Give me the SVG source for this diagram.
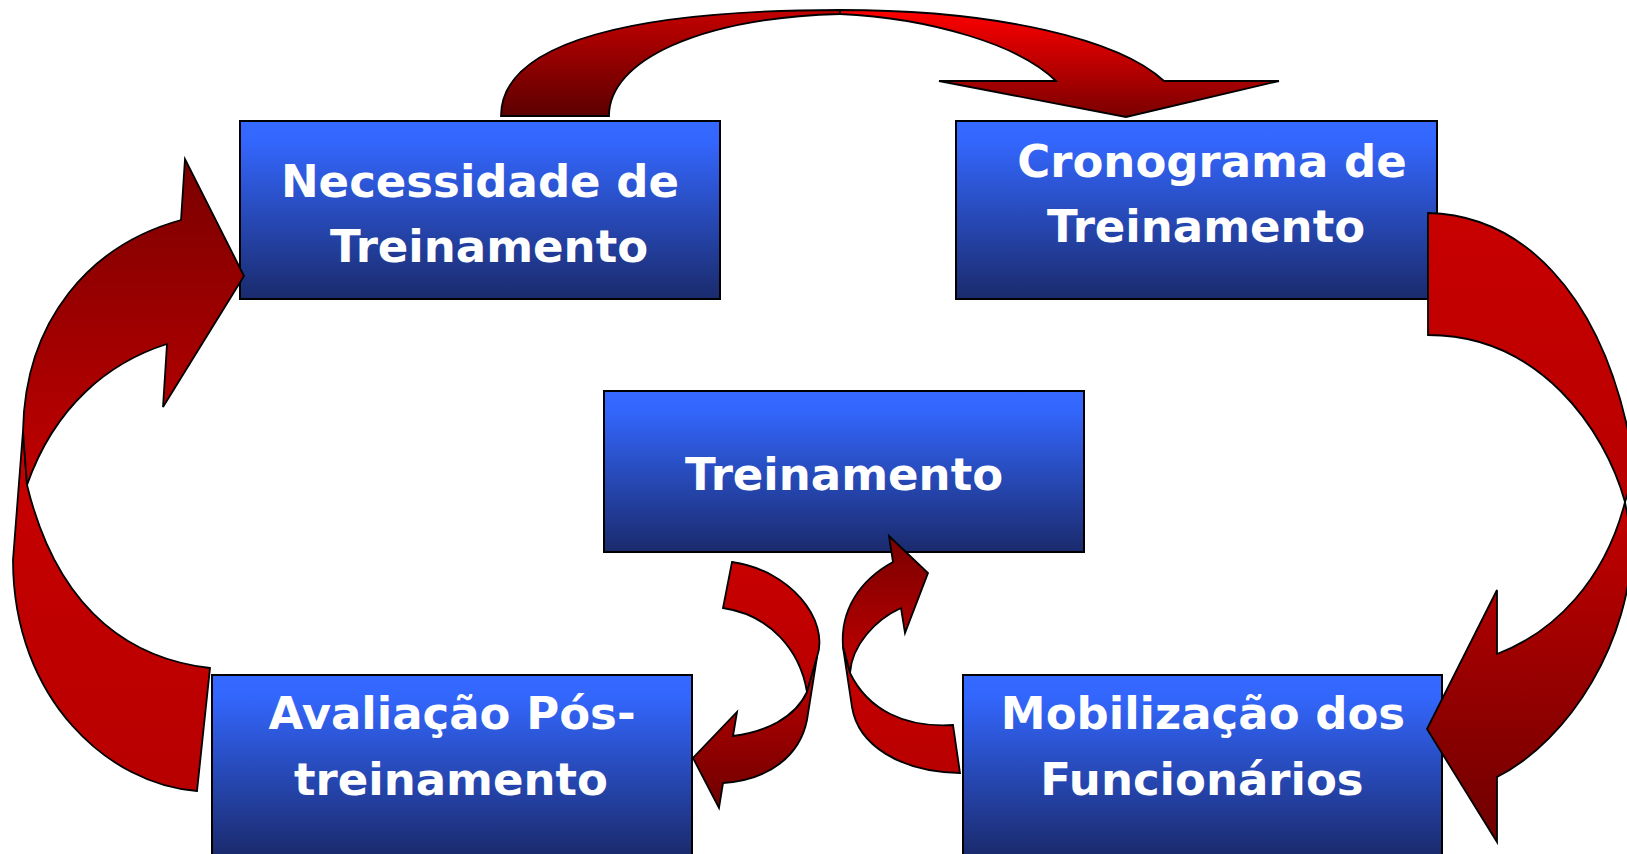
<svg xmlns="http://www.w3.org/2000/svg" width="1627" height="854" viewBox="0 0 1627 854">
<defs>
<linearGradient id="gBox" x1="0" y1="0" x2="0" y2="1">
<stop offset="0" stop-color="#3669ff"/>
<stop offset="0.12" stop-color="#3366fc"/>
<stop offset="1" stop-color="#1a2a6c"/>
</linearGradient>
<linearGradient id="gTopL" x1="0" y1="0" x2="0" y2="1">
<stop offset="0" stop-color="#c40000"/>
<stop offset="1" stop-color="#5c0000"/>
</linearGradient>
<linearGradient id="gTopR" x1="0" y1="0" x2="0" y2="1">
<stop offset="0" stop-color="#ff0000"/>
<stop offset="1" stop-color="#7a0000"/>
</linearGradient>
<linearGradient id="gDarkUp" x1="0" y1="0" x2="0" y2="1">
<stop offset="0" stop-color="#7a0000"/>
<stop offset="1" stop-color="#c00000"/>
</linearGradient>
<linearGradient id="gDarkDown" x1="0" y1="0" x2="0" y2="1">
<stop offset="0" stop-color="#c40000"/>
<stop offset="1" stop-color="#6e0000"/>
</linearGradient>
<linearGradient id="gRed" x1="0" y1="0" x2="0" y2="1">
<stop offset="0" stop-color="#c80000"/>
<stop offset="1" stop-color="#b80000"/>
</linearGradient>
</defs>
<style>
.box{fill:url(#gBox);stroke:#000;stroke-width:2}
.lbl{font-family:"DejaVu Sans","Verdana",sans-serif;font-weight:bold;font-size:45px;fill:#fff;text-anchor:middle}
.arr{stroke:#000;stroke-width:1.8;stroke-linejoin:miter}
</style>
<rect width="1627" height="854" fill="#fff"/>

<g id="node-necessidade">
<rect class="box" x="240" y="121" width="480" height="178"/>
<text class="lbl" x="480" y="197">Necessidade de</text>
<text class="lbl" x="489" y="262">Treinamento</text>
</g>
<g id="node-cronograma">
<rect class="box" x="956" y="121" width="481" height="178"/>
<text class="lbl" x="1212" y="177">Cronograma de</text>
<text class="lbl" x="1206" y="242">Treinamento</text>
</g>
<g id="node-treinamento">
<rect class="box" x="604" y="391" width="480" height="161"/>
<text class="lbl" x="844" y="490">Treinamento</text>
</g>
<g id="node-avaliacao">
<rect class="box" x="212" y="675" width="480" height="181"/>
<text class="lbl" x="452" y="729">Avaliação Pós-</text>
<text class="lbl" x="451" y="795">treinamento</text>
</g>
<g id="node-mobilizacao">
<rect class="box" x="963" y="675" width="479" height="181"/>
<text class="lbl" x="1203" y="729">Mobilização dos</text>
<text class="lbl" x="1202" y="795">Funcionários</text>
</g>

<g id="connectors">
<!-- top arrow: Necessidade -> Cronograma -->
<path class="arr" fill="url(#gTopL)" d="M501,116 C501,40 640,10 840,10 L840,14 C700,18 609,60 609,116 Z"/>
<path class="arr" fill="url(#gTopR)" d="M840,10 C1000,10 1120,40 1164,81 L1279,81 L1126,117 L939,81 L1056,81 C1020,45 930,18 840,14 Z"/>
<!-- right arrow: Cronograma -> Mobilizacao -->
<path class="arr" fill="url(#gRed)" d="M1428,213 C1520,215 1600,290 1630,440 L1632,480 L1625,502 C1605,430 1540,335 1428,335 Z"/>
<path class="arr" fill="url(#gDarkDown)" d="M1625,502 L1632,540 C1632,640 1570,740 1497,777 L1497,842 L1427,729 L1497,590 L1497,654 C1555,632 1605,580 1625,502 Z"/>
<!-- left arrow: Avaliacao -> Necessidade -->
<path class="arr" fill="url(#gRed)" d="M210,668 C140,660 60,620 27,485 L23,431 L13,560 C13,700 110,785 197,791 Z"/>
<path class="arr" fill="url(#gDarkUp)" d="M23,431 C25,320 90,245 181,220 L185,159 L244,276 L163,407 L167,344 C110,362 55,405 27,485 Z"/>
<!-- small arrow: Treinamento -> Avaliacao -->
<path class="arr" fill="url(#gRed)" d="M732,562 C790,570 830,620 817,657 L807,692 C800,650 770,615 723,608 Z"/>
<path class="arr" fill="url(#gDarkDown)" d="M817,657 L807,720 C800,755 770,780 723,783 L719,808 L693,758 L737,712 L733,736 C765,732 795,718 807,692 Z"/>
<!-- small arrow: Mobilizacao -> Treinamento -->
<path class="arr" fill="url(#gDarkUp)" d="M843,647 C840,610 860,580 893,562 L889,536 L928,573 L905,633 L901,608 C875,620 852,645 850,673 Z"/>
<path class="arr" fill="url(#gRed)" d="M843,647 L852,707 C858,745 900,772 960,773 L953,725 C905,728 868,710 850,673 Z"/>
</g>
</svg>
